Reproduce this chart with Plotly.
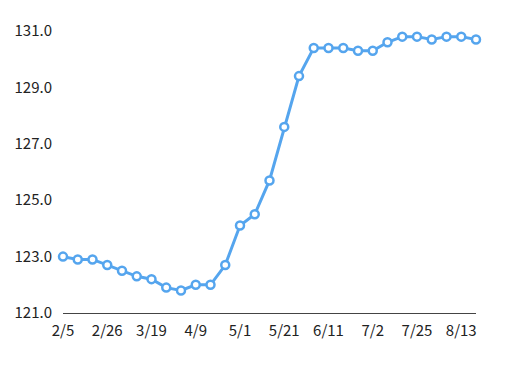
import plotly.graph_objects as go

dates = ["2/5", "2/12", "2/19", "2/26", "3/5", "3/12", "3/19", "3/26", "4/2", "4/9",
         "4/16", "4/23", "5/1", "5/7", "5/14", "5/21", "5/28", "6/4", "6/11", "6/18",
         "6/25", "7/2", "7/9", "7/16", "7/25", "7/30", "8/6", "8/13", "8/20"]
values = [123.0, 122.9, 122.9, 122.7, 122.5, 122.3, 122.2, 121.9, 121.8, 122.0,
          122.0, 122.7, 124.1, 124.5, 125.7, 127.6, 129.4, 130.4, 130.4, 130.4,
          130.3, 130.3, 130.6, 130.8, 130.8, 130.7, 130.8, 130.8, 130.7]
tick_labels = ["2/5", "2/26", "3/19", "4/9", "5/1", "5/21", "6/11", "7/2", "7/25", "8/13"]
y_ticks = [121, 123, 125, 127, 129, 131]

idx = list(range(len(dates)))
tick_idx = [dates.index(t) for t in tick_labels]

fig = go.Figure(go.Scatter(
    x=idx, y=values, mode="lines+markers",
    line=dict(color="#55A5EE", width=3),
    marker=dict(size=8, color="white", line=dict(color="#55A5EE", width=2.5)),
    cliponaxis=False,
))

font = dict(family="Noto Sans CJK JP", size=15, color="#222222")
fig.update_layout(
    width=507, height=368,
    margin=dict(l=63, r=31, t=31, b=55),
    paper_bgcolor="white", plot_bgcolor="white",
    showlegend=False,
    font=font,
    xaxis=dict(range=[0, len(dates) - 1], tickmode="array", tickvals=tick_idx,
               ticktext=tick_labels, showgrid=False, zeroline=False,
               showline=True, linecolor="#444444", linewidth=1,
               ticks="", ticklabelstandoff=4, tickfont=font),
    yaxis=dict(range=[121, 131], tickmode="array", tickvals=y_ticks,
               tickformat=".1f", showgrid=False, zeroline=False, showline=False,
               ticks="", ticklabelstandoff=10, tickfont=font),
)

fig.write_html("out.html")
